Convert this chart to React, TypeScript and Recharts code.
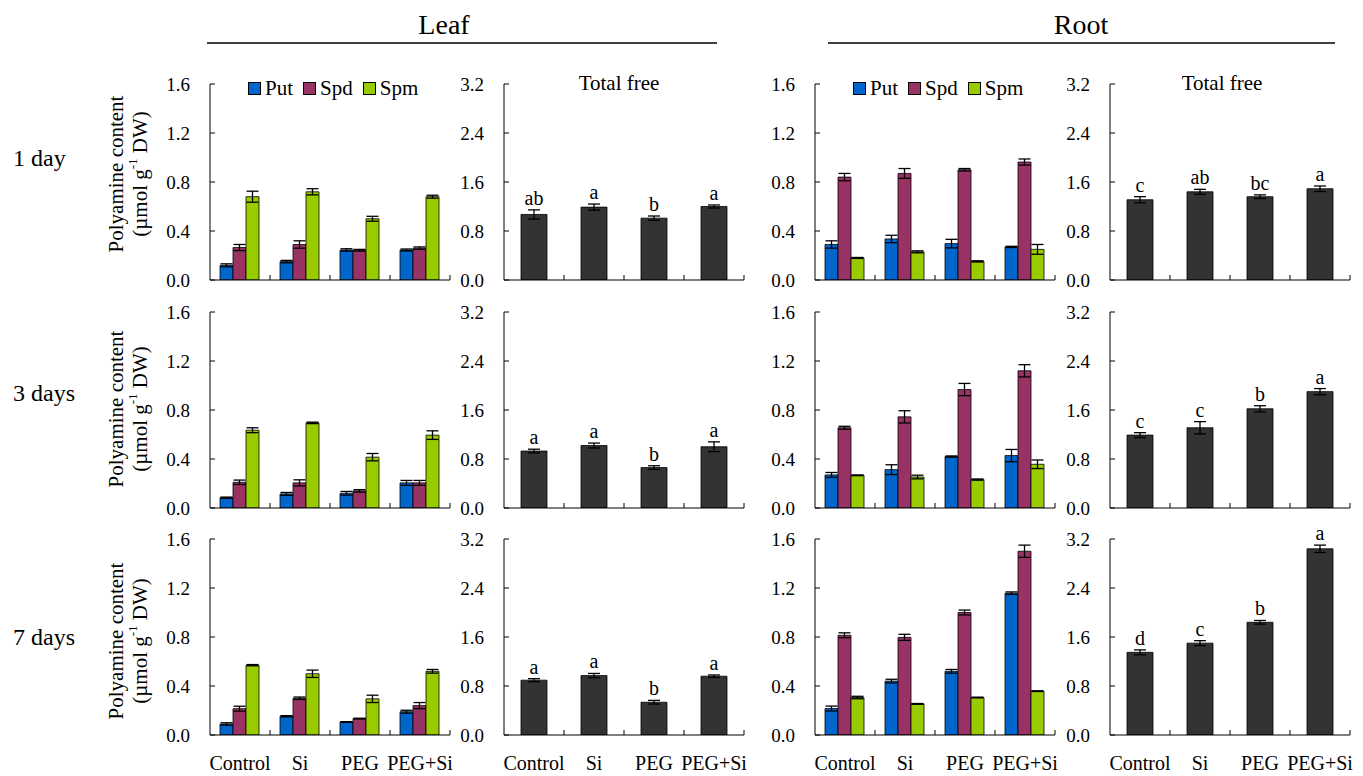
import React from 'react';
import { BarChart, Bar, XAxis, YAxis, ErrorBar, LabelList, Legend } from 'recharts';

const FONT = '"Liberation Serif", "Times New Roman", serif';

const treatments = ['Control', 'Si', 'PEG', 'PEG+Si'];
const dayLabels = ['1 day', '3 days', '7 days'];
const compTicks = [0, 0.4, 0.8, 1.2, 1.6];
const totalTicks = [0, 0.8, 1.6, 2.4, 3.2];

// leaf, rows = 1 / 3 / 7 days
const leafPut = [[0.12, 0.15, 0.245, 0.245], [0.084, 0.115, 0.12, 0.205], [0.09, 0.153, 0.106, 0.19]];
const leafPutErr = [[0.012, 0.01, 0.01, 0.008], [0.005, 0.012, 0.015, 0.02], [0.01, 0.005, 0.003, 0.012]];
const leafSpd = [[0.265, 0.29, 0.243, 0.26], [0.21, 0.205, 0.14, 0.205], [0.215, 0.3, 0.134, 0.24]];
const leafSpdErr = [[0.025, 0.03, 0.007, 0.01], [0.018, 0.025, 0.01, 0.02], [0.02, 0.01, 0.003, 0.025]];
const leafSpm = [[0.68, 0.72, 0.5, 0.68], [0.635, 0.695, 0.415, 0.595], [0.57, 0.5, 0.295, 0.52]];
const leafSpmErr = [[0.045, 0.025, 0.02, 0.012], [0.02, 0.006, 0.03, 0.035], [0.005, 0.03, 0.03, 0.015]];
const leafTotal = [[1.07, 1.19, 1.01, 1.2], [0.93, 1.02, 0.66, 1.0], [0.895, 0.97, 0.535, 0.96]];
const leafTotalErr = [[0.075, 0.05, 0.035, 0.025], [0.03, 0.04, 0.03, 0.08], [0.025, 0.035, 0.03, 0.02]];
const leafLetters = [['ab', 'a', 'b', 'a'], ['a', 'a', 'b', 'a'], ['a', 'a', 'b', 'a']];

// root
const rootPut = [[0.29, 0.335, 0.297, 0.27], [0.27, 0.313, 0.42, 0.428], [0.216, 0.44, 0.52, 1.158]];
const rootPutErr = [[0.03, 0.03, 0.035, 0.005], [0.02, 0.04, 0.005, 0.05], [0.02, 0.015, 0.015, 0.01]];
const rootSpd = [[0.84, 0.87, 0.9, 0.963], [0.655, 0.744, 0.967, 1.12], [0.814, 0.797, 1.0, 1.5]];
const rootSpdErr = [[0.03, 0.04, 0.01, 0.025], [0.012, 0.05, 0.05, 0.05], [0.02, 0.025, 0.02, 0.05]];
const rootSpm = [[0.18, 0.23, 0.152, 0.25], [0.267, 0.253, 0.232, 0.357], [0.306, 0.254, 0.306, 0.358]];
const rootSpmErr = [[0.004, 0.008, 0.005, 0.04], [0.003, 0.015, 0.005, 0.035], [0.01, 0.003, 0.003, 0.003]];
const rootTotal = [[1.31, 1.44, 1.36, 1.49], [1.19, 1.31, 1.62, 1.9], [1.35, 1.5, 1.84, 3.04]];
const rootTotalErr = [[0.05, 0.04, 0.03, 0.045], [0.04, 0.1, 0.05, 0.05], [0.04, 0.04, 0.03, 0.06]];
const rootLetters = [['c', 'ab', 'bc', 'a'], ['c', 'c', 'b', 'a'], ['d', 'c', 'b', 'a']];

const COLORS = { put: '#0066CC', spd: '#993366', spm: '#99CC00', total: '#333333' };

const PLOT_W = 240;
const PLOT_H = 196;
const Y_W = 60;
const M_TOP = 35;
const X_H = 40;
const M_RIGHT = 12;
const ROW_TOP = [84, 312, 539];
const ROW_MID = [174, 409, 641];

const tickStyle = { fill: '#000', fontSize: 19, fontFamily: FONT };

function compData(tissue: 'leaf' | 'root', row: number) {
  const put = tissue === 'leaf' ? leafPut : rootPut;
  const putErr = tissue === 'leaf' ? leafPutErr : rootPutErr;
  const spd = tissue === 'leaf' ? leafSpd : rootSpd;
  const spdErr = tissue === 'leaf' ? leafSpdErr : rootSpdErr;
  const spm = tissue === 'leaf' ? leafSpm : rootSpm;
  const spmErr = tissue === 'leaf' ? leafSpmErr : rootSpmErr;
  return treatments.map((name, i) => ({
    name,
    put: put[row][i], putErr: putErr[row][i],
    spd: spd[row][i], spdErr: spdErr[row][i],
    spm: spm[row][i], spmErr: spmErr[row][i],
  }));
}

function totalData(tissue: 'leaf' | 'root', row: number) {
  const tot = tissue === 'leaf' ? leafTotal : rootTotal;
  const err = tissue === 'leaf' ? leafTotalErr : rootTotalErr;
  const lt = tissue === 'leaf' ? leafLetters : rootLetters;
  return treatments.map((name, i) => ({
    name, total: tot[row][i], err: err[row][i], letter: lt[row][i],
  }));
}

const renderLegend = (props: any) => {
  const items = props.payload || [];
  return (
    <div style={{ display: 'flex', alignItems: 'center', fontFamily: FONT, fontSize: 21, color: '#000', lineHeight: '24px' }}>
      {items.map((p: any) => (
        <div key={p.value} style={{ display: 'flex', alignItems: 'center', marginRight: 10 }}>
          <span style={{ display: 'inline-block', width: 11, height: 11, background: p.color, border: '1px solid #000', marginRight: 4 }} />
          <span>{p.value}</span>
        </div>
      ))}
    </div>
  );
};

// category tick: label under the band centre, small inward tick at the band's right edge
const makeCatTick = (showLabel: boolean) => (props: any) => {
  const { x, y, payload } = props;
  const half = payload && payload.offset ? payload.offset : PLOT_W / 8;
  const bx = x + half;
  return (
    <g>
      <line x1={bx} x2={bx} y1={y} y2={y - 5} stroke="#000" strokeWidth={1} />
      {showLabel && (
        <text x={x} y={y + 21} dy="0.71em" textAnchor="middle" fontSize={20} fontFamily={FONT} fill="#000">
          {payload.value}
        </text>
      )}
    </g>
  );
};

function Axes({ ticks, max, showLabels }: { ticks: number[]; max: number; showLabels: boolean }) {
  return [
    <XAxis
      key="cat"
      dataKey="name"
      height={X_H}
      axisLine={{ stroke: '#000' }}
      tickLine={false}
      tickSize={0}
      tickMargin={0}
      interval={0}
      tick={makeCatTick(showLabels)}
    />,
    <YAxis
      key="y"
      width={Y_W}
      domain={[0, max]}
      ticks={ticks}
      allowDataOverflow
      tickSize={-5}
      tickMargin={25}
      tickFormatter={(v: number) => v.toFixed(1)}
      tick={tickStyle}
      axisLine={{ stroke: '#000' }}
      tickLine={{ stroke: '#000' }}
    />,
  ];
}

function CompPanel({ tissue, row, axisX }: { tissue: 'leaf' | 'root'; row: number; axisX: number }) {
  const data = compData(tissue, row);
  return (
    <div style={{ position: 'absolute', left: axisX - Y_W, top: ROW_TOP[row] - M_TOP }}>
      <BarChart
        width={Y_W + PLOT_W + M_RIGHT}
        height={M_TOP + PLOT_H + X_H}
        data={data}
        margin={{ top: M_TOP, right: M_RIGHT, left: 0, bottom: 0 }}
        barCategoryGap={10}
        barGap={0}
      >
        {Axes({ ticks: compTicks, max: 1.6, showLabels: row === 2 })}
        {row === 0 && (
          <Legend
            verticalAlign="middle"
            align="center"
            layout="horizontal"
            wrapperStyle={{ top: M_TOP - 8, left: Y_W + 38, width: 'auto' }}
            content={renderLegend}
          />
        )}
        <Bar dataKey="put" name="Put" fill={COLORS.put} stroke="#000" strokeWidth={0.8} isAnimationActive={false}>
          <ErrorBar dataKey="putErr" width={6} stroke="#000" strokeWidth={1.3} isAnimationActive={false} />
        </Bar>
        <Bar dataKey="spd" name="Spd" fill={COLORS.spd} stroke="#000" strokeWidth={0.8} isAnimationActive={false}>
          <ErrorBar dataKey="spdErr" width={6} stroke="#000" strokeWidth={1.3} isAnimationActive={false} />
        </Bar>
        <Bar dataKey="spm" name="Spm" fill={COLORS.spm} stroke="#000" strokeWidth={0.8} isAnimationActive={false}>
          <ErrorBar dataKey="spmErr" width={6} stroke="#000" strokeWidth={1.3} isAnimationActive={false} />
        </Bar>
      </BarChart>
    </div>
  );
}

function TotalPanel({ tissue, row, axisX }: { tissue: 'leaf' | 'root'; row: number; axisX: number }) {
  const data = totalData(tissue, row);
  const renderLetter = (p: any) => {
    const d = data[p.index];
    if (!d) return null;
    const pxPerUnit = p.height / d.total;
    const ty = p.y - d.err * pxPerUnit - 5;
    return (
      <text x={p.x + p.width / 2} y={ty} textAnchor="middle" fontSize={20} fontFamily={FONT} fill="#000">
        {d.letter}
      </text>
    );
  };
  return (
    <div style={{ position: 'absolute', left: axisX - Y_W, top: ROW_TOP[row] - M_TOP }}>
      <BarChart
        width={Y_W + PLOT_W + M_RIGHT}
        height={M_TOP + PLOT_H + X_H}
        data={data}
        margin={{ top: M_TOP, right: M_RIGHT, left: 0, bottom: 0 }}
        barCategoryGap={17}
      >
        {Axes({ ticks: totalTicks, max: 3.2, showLabels: row === 2 })}
        <Bar dataKey="total" name="Total free" fill={COLORS.total} stroke="#000" strokeWidth={0.8} isAnimationActive={false}>
          <ErrorBar dataKey="err" width={6} stroke="#000" strokeWidth={1.3} isAnimationActive={false} />
          <LabelList dataKey="letter" content={renderLetter} />
        </Bar>
      </BarChart>
    </div>
  );
}

export default function App() {
  return (
    <div style={{ position: 'absolute', left: 0, top: 0, width: 1363, height: 776, background: '#fff', fontFamily: FONT }}>
      {[0, 1, 2].map(row => (
        <React.Fragment key={row}>
          <CompPanel tissue="leaf" row={row} axisX={210} />
          <TotalPanel tissue="leaf" row={row} axisX={504} />
          <CompPanel tissue="root" row={row} axisX={815} />
          <TotalPanel tissue="root" row={row} axisX={1110} />
        </React.Fragment>
      ))}
      <svg width={1363} height={776} style={{ position: 'absolute', left: 0, top: 0, pointerEvents: 'none' }} fontFamily={FONT}>
        <text x={444} y={24} textAnchor="middle" dominantBaseline="central" fontSize={28} fill="#000">Leaf</text>
        <line x1={207} x2={717} y1={43} y2={43} stroke="#000" strokeWidth={1.5} />
        <text x={1081} y={24} textAnchor="middle" dominantBaseline="central" fontSize={28} fill="#000">Root</text>
        <line x1={828} x2={1335} y1={43} y2={43} stroke="#000" strokeWidth={1.5} />
        <text x={619} y={83} textAnchor="middle" dominantBaseline="central" fontSize={21} fill="#000">Total free</text>
        <text x={1222} y={83} textAnchor="middle" dominantBaseline="central" fontSize={21} fill="#000">Total free</text>
        {dayLabels.map((d, i) => (
          <text key={d} x={13} y={[158, 393, 637][i]} dominantBaseline="central" fontSize={24} fill="#000">{d}</text>
        ))}
        {ROW_MID.map((cy, i) => (
          <g key={i}>
            <text transform={`translate(116, ${cy}) rotate(-90)`} textAnchor="middle" dominantBaseline="central" fontSize={21} fill="#000">
              Polyamine content
            </text>
            <text transform={`translate(140, ${cy}) rotate(-90)`} textAnchor="middle" dominantBaseline="central" fontSize={21} fill="#000">
              (µmol g<tspan dy={-8} fontSize={13}>-1</tspan><tspan dy={8}> DW)</tspan>
            </text>
          </g>
        ))}
      </svg>
    </div>
  );
}
